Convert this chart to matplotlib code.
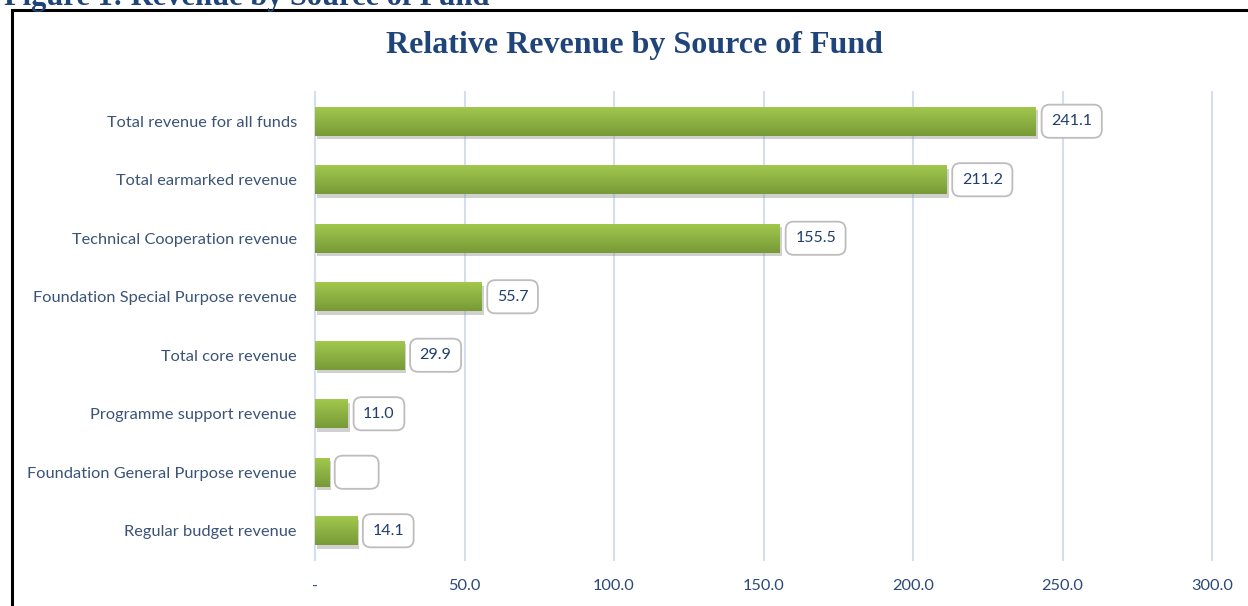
import matplotlib.pyplot as plt
import matplotlib.patheffects as pe
from matplotlib.colors import LinearSegmentedColormap
import numpy as np

categories = [
    'Total revenue for all funds',
    'Total earmarked revenue',
    'Technical Cooperation revenue',
    'Foundation Special Purpose revenue',
    'Total core revenue',
    'Programme support revenue',
    'Foundation General Purpose revenue',
    'Regular budget revenue',
]
values = [241.1, 211.2, 155.5, 55.7, 29.9, 11.0, 4.7, 14.1]
value_labels = ['241.1', '211.2', '155.5', '55.7', '29.9', '11.0', '', '14.1']
ticks = [0, 50, 100, 150, 200, 250, 300]
tick_labels = ['-', '50.0', '100.0', '150.0', '200.0', '250.0', '300.0']

navy = '#1F3F6E'
label_color = '#3A5377'
grid_color = '#D3DFEE'
green_cmap = LinearSegmentedColormap.from_list('g', ['#A3C94E', '#8DB243', '#789A37'])

fig = plt.figure(figsize=(12.48, 6.06), dpi=100)
ax = fig.add_axes([0.2524, 0.0759, 0.7188, 0.7723])

y = np.arange(len(categories))
bars = ax.barh(y, values, height=0.5, color='#86A83F', zorder=3,
               path_effects=[pe.SimplePatchShadow(offset=(1.5, -2.5), shadow_rgbFace='#8a8a8a', alpha=0.4),
                             pe.Normal()])

# gradient fill on top of each bar
grad = np.linspace(0, 1, 64).reshape(-1, 1)
for b in bars:
    x0, y0 = b.get_x(), b.get_y()
    w, h = b.get_width(), b.get_height()
    im = ax.imshow(grad, cmap=green_cmap, aspect='auto', zorder=4,
                   extent=[x0, x0 + w, y0 + h, y0], origin='upper')
    im.set_clip_path(b)

for val, lab, yy in zip(values, value_labels, y):
    txt = lab if lab else '      '
    ax.annotate(txt, xy=(val, yy), xytext=(11, 0), textcoords='offset points',
                ha='left', va='center', fontsize=11.5, color=navy, family='Lato',
                zorder=5,
                bbox=dict(boxstyle='round,pad=0.6,rounding_size=0.5', fc='white',
                          ec='#BDBDBD', lw=1.3))

ax.set_xlim(0, 300)
ax.set_ylim(len(categories) - 0.5, -0.5)
ax.set_xticks(ticks)
ax.set_xticklabels(tick_labels)
ax.set_yticks(y)
ax.set_yticklabels(categories)
ax.tick_params(axis='both', length=0, colors=label_color, labelsize=11.8)
ax.tick_params(axis='y', pad=13)
ax.tick_params(axis='x', pad=14)
for lbl in ax.get_xticklabels() + ax.get_yticklabels():
    lbl.set_family('Lato')
for lbl in ax.get_xticklabels():
    lbl.set_color('#2B4A78')

for t in ticks:
    ax.axvline(t, color=grid_color, lw=1.5, zorder=1, clip_on=False)
for s in ax.spines.values():
    s.set_visible(False)

fig.text(0.508, 0.925, 'Relative Revenue by Source of Fund', ha='center', va='center',
         fontsize=23, fontweight='bold', family='Liberation Serif', color='#1F4479')

# caption above the frame, mostly cut by the page edge
fig.text(0.003, 1 - 5 / 606, 'Figure 1: Revenue by Source of Fund', ha='left', va='baseline',
         fontsize=22, fontweight='bold', family='Liberation Serif', color='#1F4479')

frame = plt.Rectangle((12 / 1248, -0.05), 1.2, 1 - 10 / 606 + 0.05, transform=fig.transFigure,
                      fill=False, ec='black', lw=2.2)
fig.patches.append(frame)

fig.savefig('out.png', dpi=100)
